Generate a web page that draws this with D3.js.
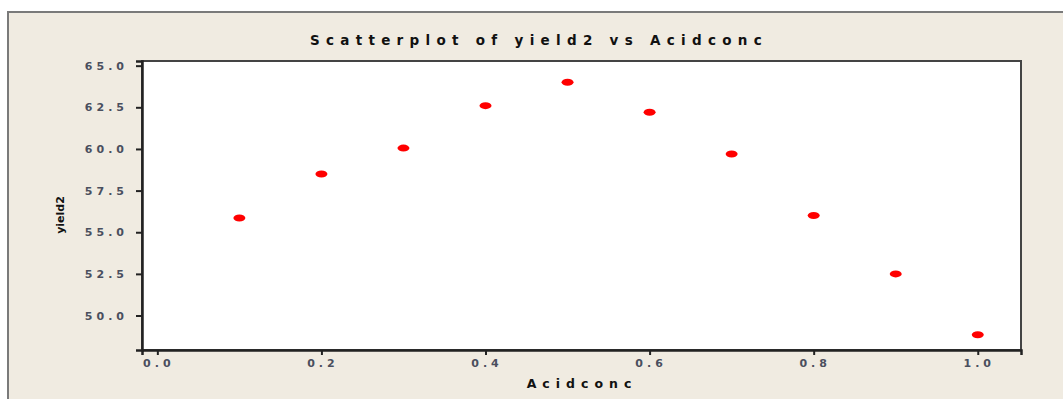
<!DOCTYPE html>
<html>
<head>
<meta charset="utf-8">
<script src="https://cdn.jsdelivr.net/npm/d3@7"></script>
<style>
  body { margin:0; background:#fff; }
  text { font-family: "DejaVu Sans", Verdana, sans-serif; }
</style>
</head>
<body>
<div class="canvas"></div>
<script>
const acidconc = [0.1, 0.2, 0.3, 0.4, 0.5, 0.6, 0.7, 0.8, 0.9, 1.0];
const yield2 = [55.85, 58.5, 60.05, 62.6, 64.0, 62.2, 59.7, 56.0, 52.5, 48.85];
const xTicks = [0.0, 0.2, 0.4, 0.6, 0.8, 1.0];
const yTicks = [50.0, 52.5, 55.0, 57.5, 60.0, 62.5, 65.0];

const dim = { width:1063, height:399 };
const plot = { left:142, top:61, right:1021, bottom:350 };

const svg = d3.select('.canvas')
    .append('svg')
    .attr('width',dim.width)
    .attr('height',dim.height);

// outer panel
svg.append('rect')
    .attr('x',8).attr('y',12)
    .attr('width',dim.width+10).attr('height',dim.height)
    .attr('fill','#f0ebe1')
    .attr('stroke','#7a7a7a')
    .attr('stroke-width',2);

const x = d3.scaleLinear().domain([-0.0187, 1.0527]).range([plot.left, plot.right]);
const y = d3.scaleLinear().domain([47.93, 65.28]).range([plot.bottom, plot.top]);

svg.append('rect')
    .attr('x',plot.left).attr('y',plot.top)
    .attr('width',plot.right-plot.left).attr('height',plot.bottom-plot.top)
    .attr('fill','#fff')
    .attr('stroke','#444')
    .attr('stroke-width',2);

// axes
const xAxis = d3.axisBottom(x).tickValues(xTicks).tickFormat(d3.format('.1f')).tickSize(5).tickPadding(4);
const yAxis = d3.axisLeft(y).tickValues(yTicks).tickFormat(d3.format('.1f')).tickSize(6).tickPadding(8);

const gx = svg.append('g').attr('transform',`translate(0,${plot.bottom})`).call(xAxis);
const gy = svg.append('g').attr('transform',`translate(${plot.left},0)`).call(yAxis);

[gx, gy].forEach(g=>{
    g.select('.domain').attr('stroke','#222').attr('stroke-width',2.5);
    g.selectAll('.tick line').attr('stroke','#222').attr('stroke-width',2);
    g.selectAll('.tick text')
        .attr('fill','#4a4f5e')
        .attr('font-size',11)
        .attr('font-weight','bold')
        .attr('letter-spacing','4px');
});
gx.selectAll('.tick text').attr('dx','1px');

// points
svg.append('g').selectAll('ellipse')
    .data(acidconc.map((a,i)=>({a, v:yield2[i]})))
    .enter()
    .append('ellipse')
    .attr('cx',d=>x(d.a))
    .attr('cy',d=>y(d.v))
    .attr('rx',6)
    .attr('ry',3.5)
    .attr('fill','#f00');

// title
svg.append('text')
    .attr('x',539).attr('y',45)
    .attr('text-anchor','middle')
    .attr('font-size',13.5)
    .attr('font-weight','bold')
    .attr('letter-spacing','6.3px')
    .attr('fill','#111')
    .text('Scatterplot of yield2 vs Acidconc');

// x label
svg.append('text')
    .attr('x',582).attr('y',388)
    .attr('text-anchor','middle')
    .attr('font-size',12.5)
    .attr('font-weight','bold')
    .attr('letter-spacing','6px')
    .attr('fill','#111')
    .text('Acidconc');

// y label
svg.append('text')
    .attr('transform','translate(64,215) rotate(-90)')
    .attr('text-anchor','middle')
    .attr('font-size',11)
    .attr('font-weight','bold')
    .attr('fill','#111')
    .text('yield2');
</script>
</body>
</html>
